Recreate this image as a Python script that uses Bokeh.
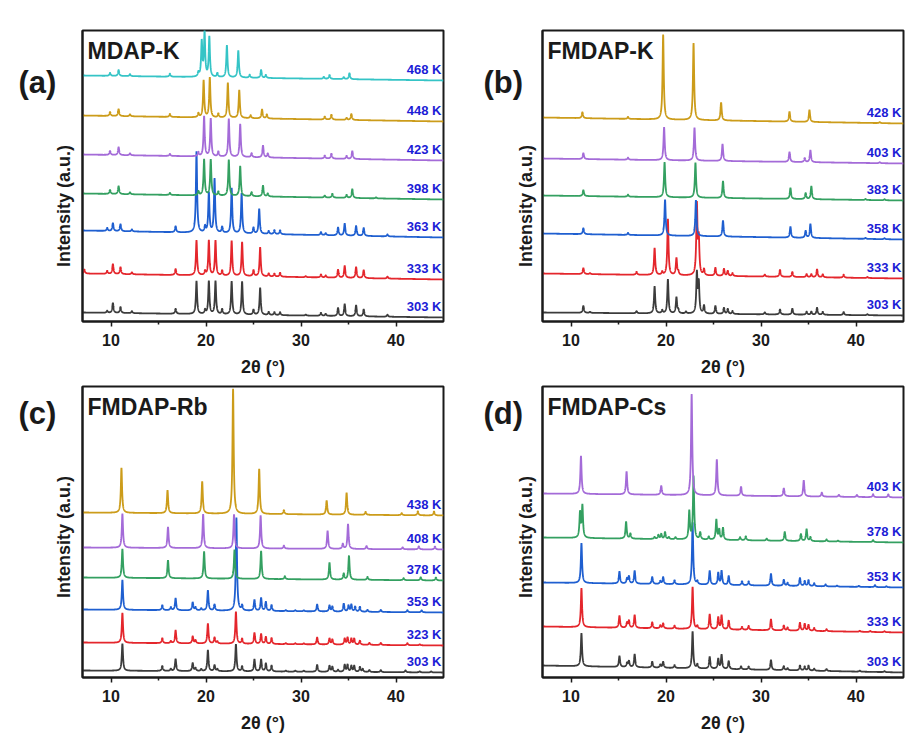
import numpy as np
from bokeh.plotting import figure
from bokeh.layouts import column, row
from bokeh.models import Range1d, FixedTicker, Label, ColumnDataSource
from bokeh.core.properties import value
from bokeh.embed import file_html
from bokeh.resources import INLINE

FONT = "Liberation Sans"
DARK = "#1a1a1a"
TEMP_COLOR = "#1c1cd6"

X_MIN, X_MAX = 7, 45
X_TICKS = [10, 20, 30, 40]
X_MINOR = [15, 25, 35]
X_TITLE = "2θ (°)"
Y_TITLE = "Intensity (a.u.)"

# ---------------- Panel (a) MDAP-K ----------------
a_temps = ["303 K", "333 K", "363 K", "398 K", "423 K", "448 K", "468 K"]
a_colors = ["#3c3c3c", "#e4262c", "#1f5fd0", "#34a061", "#a46bd8", "#cc9c1a", "#35c4c6"]
a_base_left = [9, 48, 91, 128, 167, 206, 246]
a_base_right = [4, 42, 84, 122, 161, 200, 241]
a_peaks_303 = [(9.6, 2), (10.2, 10), (11.0, 6), (12.2, 2), (16.8, 5), (19.0, 33), (19.9, 4), (20.3, 33), (21.0, 33),
               (21.7, 5), (22.7, 33), (23.8, 33), (25.0, 5), (25.7, 27), (26.6, 3), (27.2, 3), (27.8, 3), (30.5, 1),
               (32.1, 3), (32.6, 2), (33.9, 8), (34.6, 12), (35.8, 11), (36.6, 7), (39.1, 2)]
a_peaks_333 = [(7.2, 4), (9.6, 3), (10.2, 10), (11.0, 7), (12.2, 2), (16.8, 6), (19.0, 35), (19.9, 4), (20.3, 35),
               (21.0, 35), (21.7, 5), (22.7, 35), (23.8, 34), (25.0, 6), (25.7, 29), (26.6, 3), (27.2, 3), (27.8, 4),
               (30.5, 1), (32.1, 3), (32.6, 2), (33.9, 8), (34.6, 12), (35.8, 11), (36.6, 8), (39.1, 2)]
a_peaks_363 = [(9.6, 3), (10.2, 8), (11.0, 7), (12.2, 2), (16.8, 6), (19.0, 81), (19.9, 6), (20.3, 40), (20.9, 54),
               (21.7, 6), (22.7, 45), (23.75, 40), (25.0, 6), (25.6, 25), (26.6, 3), (27.2, 4), (27.8, 4), (32.1, 3),
               (32.6, 2), (33.9, 8), (34.6, 12), (35.8, 10), (36.6, 8), (39.1, 2)]
a_peaks_398 = [(9.9, 4), (10.8, 8), (12.0, 2), (16.2, 2), (19.2, 4), (19.8, 36), (20.5, 36), (21.3, 4), (22.4, 36),
               (23.6, 30), (24.8, 4), (26.0, 11), (26.5, 3), (32.5, 2), (33.3, 4), (34.8, 3), (35.4, 9), (37.9, 1)]
a_peaks_423 = [(9.9, 4), (10.8, 8), (12.0, 2), (16.2, 2), (19.2, 4), (19.8, 40), (20.5, 38), (21.3, 5), (22.4, 38),
               (23.6, 33), (24.8, 4), (26.0, 12), (26.5, 4), (32.5, 3), (33.2, 5), (34.8, 3), (35.4, 8)]
a_peaks_448 = [(9.9, 4), (10.8, 7), (12.0, 2), (16.2, 3), (19.2, 4), (19.75, 37), (20.4, 40), (21.3, 4), (22.3, 35),
               (23.5, 28), (24.7, 3), (25.9, 9), (26.4, 4), (32.5, 3), (33.2, 5), (34.8, 2), (35.3, 6)]
a_peaks_468 = [(9.9, 3), (10.8, 6), (12.0, 2), (16.2, 3), (19.2, 4), (19.55, 35), (19.85, 44), (20.35, 40), (21.2, 4),
               (22.2, 32), (23.4, 27), (24.6, 3), (25.8, 8), (26.3, 3), (32.4, 2), (33.0, 4), (34.5, 2), (35.1, 6)]
a_peaks = [a_peaks_303, a_peaks_333, a_peaks_363, a_peaks_398, a_peaks_423, a_peaks_448, a_peaks_468]

# ---------------- Panel (b) FMDAP-K ----------------
b_temps = ["303 K", "333 K", "358 K", "383 K", "403 K", "428 K"]
b_colors = ["#3c3c3c", "#e4262c", "#1f5fd0", "#34a061", "#a46bd8", "#cc9c1a"]
b_base_left = [9, 48, 88, 126, 163, 204]
b_base_right = [6, 43, 82, 121, 158, 198]
b_peaks_303 = [(11.3, 7), (12.0, 1), (16.9, 2), (18.8, 27), (19.6, 3), (20.2, 34), (21.1, 16), (21.3, 3), (22.1, 2),
               (23.25, 40), (23.45, 30), (24.0, 8), (25.2, 8), (26.1, 6), (26.5, 5), (27.0, 3), (30.4, 2), (32.0, 5),
               (33.3, 6), (34.8, 3), (35.3, 3), (35.9, 7), (36.5, 3), (38.7, 3), (41.2, 1)]
b_peaks_333 = [(11.3, 6), (12.0, 1), (16.9, 3), (18.8, 27), (19.6, 3), (20.2, 56), (21.1, 17), (21.3, 3),
               (23.25, 70), (23.45, 35), (24.0, 6), (25.2, 8), (26.1, 7), (26.5, 5), (27.0, 3), (30.4, 2), (32.0, 7),
               (33.3, 5), (34.8, 3), (35.3, 3), (35.9, 8), (36.5, 3), (38.7, 3), (41.2, 1)]
b_peaks_358 = [(11.3, 6), (16.0, 2), (19.9, 36), (23.15, 36), (26.0, 16), (33.1, 11), (34.7, 7), (35.2, 14),
               (41.0, 1), (43.0, 1)]
b_peaks_383 = [(11.3, 6), (16.0, 2), (19.85, 35), (23.1, 35), (26.0, 17), (33.1, 11), (34.7, 6), (35.3, 13),
               (41.0, 1), (43.0, 1)]
b_peaks_403 = [(11.3, 6), (16.0, 2), (19.8, 33), (23.0, 33), (25.95, 17), (33.0, 10), (34.6, 4), (35.2, 12),
               (42.5, 1)]
b_peaks_428 = [(11.2, 6), (16.0, 2), (19.7, 85), (22.9, 77), (25.8, 18), (33.0, 10), (35.1, 12), (42.5, 1)]
b_peaks = [b_peaks_303, b_peaks_333, b_peaks_358, b_peaks_383, b_peaks_403, b_peaks_428]

# ---------------- Panel (c) FMDAP-Rb ----------------
c_temps = ["303 K", "323 K", "353 K", "378 K", "408 K", "438 K"]
c_colors = ["#3c3c3c", "#e4262c", "#1f5fd0", "#34a061", "#a46bd8", "#cc9c1a"]
c_base_left = [7, 35, 68, 100, 130, 165]
c_base_right = [5, 32, 65, 97, 128, 162]
c_peaks_303 = [(11.2, 27), (15.4, 5), (16.3, 2), (16.8, 12), (18.6, 8), (18.9, 3), (19.5, 2), (20.2, 21), (20.9, 6),
               (21.2, 2), (23.15, 27), (23.8, 5), (25.1, 12), (25.8, 12), (26.3, 8), (26.9, 6), (28.4, 1), (29.4, 1),
               (30.3, 1), (31.7, 7), (33.0, 6), (33.3, 5), (33.9, 2), (34.6, 7), (34.9, 7), (35.3, 6), (35.6, 6),
               (36.2, 5), (36.5, 3), (37.2, 2), (38.4, 2), (41.0, 2), (42.5, 1), (43.7, 1)]
c_peaks_323 = [(11.2, 30), (15.4, 5), (16.3, 2), (16.8, 13), (18.6, 7), (18.9, 3), (20.2, 20), (20.9, 6), (21.2, 2),
               (23.15, 32), (23.8, 5), (25.1, 11), (25.8, 10), (26.3, 7), (26.9, 6), (28.4, 1), (29.4, 1), (30.3, 1),
               (31.7, 7), (33.0, 6), (33.3, 5), (34.6, 6), (34.9, 7), (35.3, 6), (35.6, 6), (36.2, 4), (37.2, 2),
               (38.4, 2), (41.2, 2), (42.5, 1)]
c_peaks_353 = [(11.2, 30), (15.4, 5), (16.3, 3), (16.8, 12), (18.6, 8), (18.9, 3), (19.5, 2), (20.2, 20), (20.9, 6),
               (23.2, 93), (23.8, 5), (25.1, 11), (25.8, 13), (26.3, 9), (26.9, 6), (28.4, 1), (29.4, 1), (30.3, 1),
               (31.7, 7), (33.0, 6), (33.3, 5), (34.5, 8), (35.0, 6), (35.3, 7), (35.7, 5), (36.2, 5), (37.0, 2),
               (38.4, 2), (41.2, 2), (42.7, 2)]
c_peaks_378 = [(11.2, 29), (16.0, 18), (19.8, 27), (23.0, 29), (25.8, 28), (28.3, 3), (33.0, 17), (34.5, 6),
               (35.05, 24), (37.0, 3), (40.8, 2), (42.6, 3), (44.2, 3)]
c_peaks_408 = [(11.2, 34), (16.0, 21), (19.7, 34), (22.95, 34), (25.75, 33), (28.2, 3), (32.8, 18), (34.4, 5),
               (34.95, 25), (36.9, 3), (40.7, 2), (42.4, 3), (44.1, 3)]
c_peaks_438 = [(11.1, 45), (15.95, 23), (19.6, 32), (22.85, 125), (25.6, 45), (28.2, 4), (32.7, 14), (34.8, 22),
               (36.8, 3), (40.6, 2), (42.3, 4), (44.0, 4)]
c_peaks = [c_peaks_303, c_peaks_323, c_peaks_353, c_peaks_378, c_peaks_408, c_peaks_438]

# ---------------- Panel (d) FMDAP-Cs ----------------
d_temps = ["303 K", "333 K", "353 K", "378 K", "403 K"]
d_colors = ["#3c3c3c", "#e4262c", "#1f5fd0", "#34a061", "#a46bd8"]
d_base_left = [12, 51, 95, 140, 184]
d_base_right = [5, 45, 90, 135, 180]
d_peaks_303 = [(11.1, 33), (15.1, 11), (15.9, 4), (16.1, 6), (16.7, 13), (18.55, 6), (19.4, 3), (19.7, 6), (20.9, 3),
               (22.8, 37), (23.3, 4), (24.6, 12), (25.5, 10), (25.85, 14), (26.6, 8), (27.9, 3), (28.7, 3),
               (31.05, 10), (32.4, 4), (32.8, 2), (34.1, 5), (34.6, 4), (35.0, 5), (35.6, 2), (36.9, 2), (40.4, 1),
               (43.0, 1)]
d_peaks_333 = [(11.1, 39), (15.1, 12), (15.9, 5), (16.1, 7), (16.7, 13), (18.55, 6), (19.4, 3), (19.7, 5), (20.9, 3),
               (22.8, 42), (23.3, 3), (24.6, 15), (25.5, 12), (25.85, 14), (26.6, 9), (28.0, 3), (28.7, 4),
               (31.05, 11), (32.4, 5), (32.8, 3), (34.1, 8), (34.6, 7), (35.0, 6), (35.6, 3), (36.9, 2), (40.4, 1),
               (41.5, 1), (43.0, 1)]
d_peaks_353 = [(11.1, 40), (15.1, 12), (15.9, 5), (16.1, 7), (16.7, 13), (18.55, 7), (19.4, 3), (19.7, 7), (20.9, 4),
               (22.8, 62), (23.3, 3), (24.6, 14), (25.5, 12), (25.85, 14), (26.6, 9), (28.0, 4), (28.7, 4),
               (31.05, 12), (32.4, 6), (32.8, 3), (34.1, 8), (34.6, 5), (35.0, 6), (35.6, 3), (36.8, 2), (38.0, 1),
               (40.3, 1), (42.0, 2), (43.2, 1)]
d_peaks_378 = [(10.95, 25), (11.2, 32), (15.8, 17), (16.25, 5), (18.8, 2), (19.2, 4), (19.5, 5), (19.9, 7), (20.3, 2),
               (21.0, 2), (22.45, 28), (22.9, 63), (23.6, 7), (24.5, 3), (25.3, 20), (25.6, 10), (26.0, 12),
               (27.8, 3), (28.4, 4), (30.6, 2), (32.5, 9), (34.2, 7), (34.8, 12), (35.2, 4), (36.9, 2), (38.1, 1),
               (41.8, 2)]
d_peaks_403 = [(11.05, 38), (15.85, 23), (19.5, 9), (22.7, 101), (25.35, 36), (27.9, 9), (32.4, 8), (34.5, 16),
               (36.4, 4), (38.2, 2), (40.1, 2), (41.8, 3), (43.4, 3)]
d_peaks = [d_peaks_303, d_peaks_333, d_peaks_353, d_peaks_378, d_peaks_403]

# ---------------- drawing ----------------
HWHM = 0.075   # drawn half-width of each reflection
STEP = 0.01
FRAME_W = 361
FRAME_H = 291
Y_TOP = 291
ROW1_TOP, ROW2_TOP, BOTTOM = 30, 3, 62
SIDE_W = 80          # strip left of each frame holding the panel letter and the y title
FONT_VALUE = value(FONT)


def pattern(base_l, base_r, peaks):
    xs = np.arange(X_MIN, X_MAX + STEP / 2, STEP)
    ys = base_l + (base_r - base_l) * (xs - X_MIN) / (X_MAX - X_MIN)
    for pos, amp in peaks:
        ys = ys + amp / (1.0 + ((xs - pos) / HWHM) ** 2)
    return xs, ys


def side_panel(letter, height, top, letter_x, ytitle_x):
    p = figure(frame_width=SIDE_W, frame_height=height, x_range=Range1d(0, 1), y_range=Range1d(0, 1),
               output_backend="svg", toolbar_location=None, x_axis_location=None, y_axis_location=None,
               min_border_left=0, min_border_right=0, min_border_top=0, min_border_bottom=0)
    p.outline_line_color = None
    p.xgrid.visible = False
    p.ygrid.visible = False
    # letter: vertically centred 22 px below the frame top
    p.add_layout(Label(x=letter_x, y=height - top - 22, x_units="screen", y_units="screen", text=letter,
                       text_font=FONT, text_font_size="31px", text_font_style="bold",
                       text_color=DARK, text_baseline="middle", text_align="left"))
    # y-axis title, centred on the frame
    p.add_layout(Label(x=ytitle_x, y=height - top - FRAME_H / 2, x_units="screen", y_units="screen",
                       text=Y_TITLE, angle=np.pi / 2,
                       text_font=FONT, text_font_size="18px", text_font_style="bold",
                       text_color=DARK, text_baseline="middle", text_align="center"))
    return p


def make_panel(name, temps, colors, bl, br, peaks, b_right, b_top):
    p = figure(frame_width=FRAME_W, frame_height=FRAME_H,
               x_range=Range1d(X_MIN, X_MAX), y_range=Range1d(0, Y_TOP),
               output_backend="svg", toolbar_location=None,
               min_border_left=2, min_border_right=b_right,
               min_border_top=b_top, min_border_bottom=BOTTOM)
    p.xgrid.visible = False
    p.ygrid.visible = False
    p.outline_line_color = DARK
    p.outline_line_width = 2
    p.outline_line_alpha = 1

    xa = p.xaxis[0]
    xa.ticker = FixedTicker(ticks=X_TICKS, minor_ticks=X_MINOR)
    xa.axis_line_color = DARK
    xa.axis_line_width = 2
    xa.major_tick_in = 0
    xa.major_tick_out = 5
    xa.minor_tick_in = 0
    xa.minor_tick_out = 3
    xa.major_tick_line_color = DARK
    xa.minor_tick_line_color = DARK
    xa.major_tick_line_width = 1.5
    xa.minor_tick_line_width = 1.5
    xa.major_label_standoff = 7
    xa.major_label_text_font = FONT
    xa.major_label_text_font_size = "16px"
    xa.major_label_text_font_style = "bold"
    xa.major_label_text_color = DARK
    xa.axis_label = X_TITLE
    xa.axis_label_text_font = FONT
    xa.axis_label_text_font_size = "18px"
    xa.axis_label_text_font_style = "bold"
    xa.axis_label_text_color = DARK
    xa.axis_label_standoff = 8

    ya = p.yaxis[0]
    ya.ticker = FixedTicker(ticks=[])
    ya.axis_line_color = DARK
    ya.axis_line_width = 2
    ya.major_tick_out = 0
    ya.major_tick_in = 0
    ya.minor_tick_out = 0
    ya.minor_tick_in = 0
    ya.major_label_standoff = 0

    for bl_i, br_i, pk, col in zip(bl, br, peaks, colors):
        xs, ys = pattern(bl_i, br_i, pk)
        p.line(xs, ys, line_color=col, line_width=1.8)

    src = ColumnDataSource(dict(x=[X_MAX] * len(temps), y=br, t=temps))
    p.text(x="x", y="y", text="t", source=src, x_offset=-2, y_offset=-11,
           text_align="right", text_baseline="middle",
           text_font=FONT_VALUE, text_font_size="13px", text_font_style="bold",
           text_color=TEMP_COLOR)

    p.add_layout(Label(x=5, y=FRAME_H - 20, x_units="screen", y_units="screen", text=name,
                       text_font=FONT, text_font_size="23px", text_font_style="bold",
                       text_color=DARK, text_baseline="middle", text_align="left"))
    return p


ROW1_H = ROW1_TOP + FRAME_H + BOTTOM
ROW2_H = ROW2_TOP + FRAME_H + BOTTOM

sa = side_panel("(a)", ROW1_H, ROW1_TOP, 18, 63)
pa = make_panel("MDAP-K", a_temps, a_colors, a_base_left, a_base_right, a_peaks, 17, ROW1_TOP)
sb = side_panel("(b)", ROW1_H, ROW1_TOP, 23, 65)
pb = make_panel("FMDAP-K", b_temps, b_colors, b_base_left, b_base_right, b_peaks, 2, ROW1_TOP)
sc = side_panel("(c)", ROW2_H, ROW2_TOP + 2, 18, 63)
pc = make_panel("FMDAP-Rb", c_temps, c_colors, c_base_left, c_base_right, c_peaks, 17, ROW2_TOP)
sd = side_panel("(d)", ROW2_H, ROW2_TOP + 2, 23, 65)
pd = make_panel("FMDAP-Cs", d_temps, d_colors, d_base_left, d_base_right, d_peaks, 2, ROW2_TOP)

layout = column(row(sa, pa, sb, pb), row(sc, pc, sd, pd))
open("out.html", "w").write(file_html(layout, INLINE))
